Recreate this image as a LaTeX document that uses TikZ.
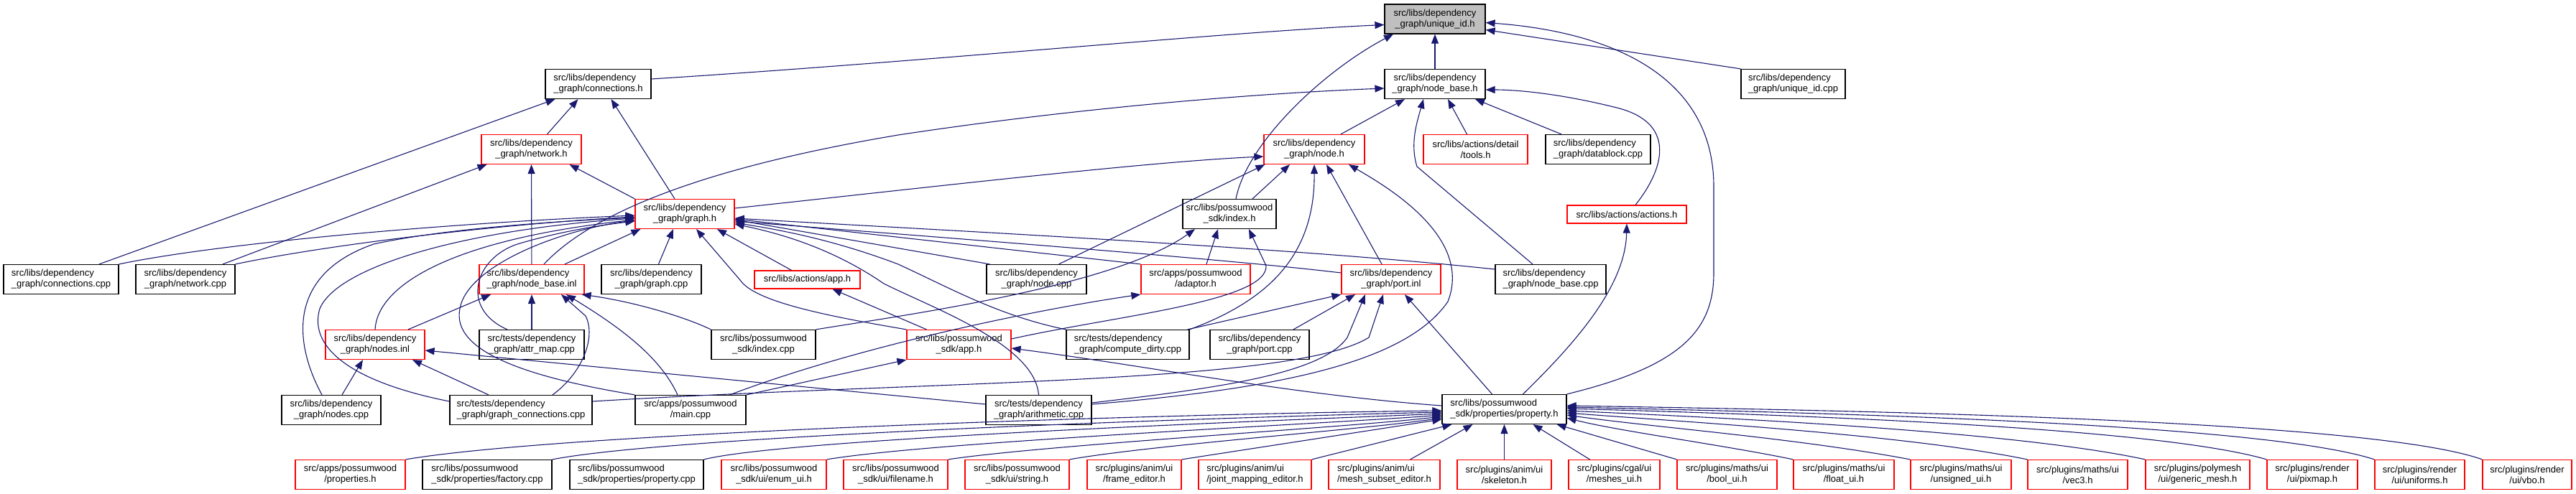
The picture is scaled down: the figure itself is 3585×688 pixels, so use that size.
\documentclass[tikz,border=0pt]{standalone}
\usepackage{fontspec}
\setmainfont{Liberation Sans}
\usetikzlibrary{arrows.meta}

\definecolor{edgeblue}{HTML}{191970}
\definecolor{boxred}{HTML}{FF0000}
\definecolor{rootgray}{HTML}{BFBFBF}

\tikzset{
  file/.style={draw=black, fill=white, line width=1.2pt, align=center, inner sep=0pt,
    minimum height=41pt, font=\fontsize{13}{15}\selectfont},
  trunc/.style={file, draw=boxred},
  root/.style={file, fill=rootgray},
  dep/.style={draw=edgeblue, line width=1.1pt, -{Triangle[length=13pt,width=10pt]}},
}

\begin{document}
\begin{tikzpicture}[x=1pt,y=-1pt]
        \useasboundingbox (0,0) rectangle (3585,688);

        % Files, row by row
        \node[root, minimum width=140pt] (uidh) at (1997,26.5) {src/libs/dependency\\\_graph/unique\_id.h};

        \node[file, minimum width=147pt, align=left] (connh) at (832.5,117) {src/libs/dependency\\\_graph/connections.h};
        \node[file, minimum width=140pt] (nbaseh) at (1997,117) {src/libs/dependency\\\_graph/node\_base.h};
        \node[file, minimum width=145pt, align=left] (uidcpp) at (2495.5,117) {src/libs/dependency\\\_graph/unique\_id.cpp};

        \node[trunc, minimum width=139pt] (networkh) at (739.5,208) {src/libs/dependency\\\_graph/network.h};
        \node[trunc, minimum width=140pt] (nodeh) at (1829,208) {src/libs/dependency\\\_graph/node.h};
        \node[trunc, minimum width=145pt] (toolsh) at (2053.5,208) {src/libs/actions/detail\\/tools.h};
        \node[file, minimum width=146pt, align=left] (datablock) at (2224,208) {src/libs/dependency\\\_graph/datablock.cpp};

        \node[trunc, minimum width=138pt] (graphh) at (953,298) {src/libs/dependency\\\_graph/graph.h};
        \node[file, minimum width=130pt] (indexh) at (1711,298) {src/libs/possumwood\\\_sdk/index.h};
        \node[trunc, minimum width=166pt, minimum height=25pt] (actionsh) at (2264,298.5) {src/libs/actions/actions.h};

        \node[file, minimum width=160pt, align=left] (conncpp) at (85,389) {src/libs/dependency\\\_graph/connections.cpp};
        \node[file, minimum width=138pt] (networkcpp) at (258,389) {src/libs/dependency\\\_graph/network.cpp};
        \node[trunc, minimum width=146pt, align=left] (nbaseinl) at (740,389) {src/libs/dependency\\\_graph/node\_base.inl};
        \node[file, minimum width=139pt] (graphcpp) at (906.5,389) {src/libs/dependency\\\_graph/graph.cpp};
        \node[trunc, minimum width=147pt, minimum height=25pt] (apph) at (1123.5,389.5) {src/libs/actions/app.h};
        \node[file, minimum width=139pt] (nodecpp) at (1442.5,389) {src/libs/dependency\\\_graph/node.cpp};
        \node[trunc, minimum width=152pt] (adaptorh) at (1664,389) {src/apps/possumwood\\/adaptor.h};
        \node[trunc, minimum width=138pt] (portinl) at (1936,389) {src/libs/dependency\\\_graph/port.inl};
        \node[file, minimum width=154pt, align=left] (nbasecpp) at (2158,389) {src/libs/dependency\\\_graph/node\_base.cpp};

        \node[trunc, minimum width=138pt] (nodesinl) at (522,480) {src/libs/dependency\\\_graph/nodes.inl};
        \node[file, minimum width=146pt] (attrmap) at (740,480) {src/tests/dependency\\\_graph/attr\_map.cpp};
        \node[file, minimum width=145pt] (indexcpp) at (1062.5,480) {src/libs/possumwood\\\_sdk/index.cpp};
        \node[trunc, minimum width=145pt] (pwapph) at (1334.5,480) {src/libs/possumwood\\\_sdk/app.h};
        \node[file, minimum width=171pt, align=left] (dirtycpp) at (1569.5,480) {src/tests/dependency\\\_graph/compute\_dirty.cpp};
        \node[file, minimum width=138pt] (portcpp) at (1753,480) {src/libs/dependency\\\_graph/port.cpp};

        \node[file, minimum width=138pt] (nodescpp) at (461,571) {src/libs/dependency\\\_graph/nodes.cpp};
        \node[file, minimum width=198pt, align=left] (gconncpp) at (725,571) {src/tests/dependency\\\_graph/graph\_connections.cpp};
        \node[file, minimum width=154pt] (maincpp) at (961,571) {src/apps/possumwood\\/main.cpp};
        \node[file, minimum width=147pt] (arithcpp) at (1445.5,571) {src/tests/dependency\\\_graph/arithmetic.cpp};
        \node[file, minimum width=173pt, align=left] (propertyh) at (2093.5,570) {src/libs/possumwood\\\_sdk/properties/property.h};

        \node[trunc, minimum width=153pt] (propsh) at (487.5,661) {src/apps/possumwood\\/properties.h};
        \node[file, minimum width=180pt, align=left] (factorycpp) at (678,661) {src/libs/possumwood\\\_sdk/properties/factory.cpp};
        \node[file, minimum width=186pt, align=left] (propcpp) at (886,661) {src/libs/possumwood\\\_sdk/properties/property.cpp};
        \node[trunc, minimum width=146pt] (enumui) at (1077,661) {src/libs/possumwood\\\_sdk/ui/enum\_ui.h};
        \node[trunc, minimum width=145pt] (filenameh) at (1246.5,661) {src/libs/possumwood\\\_sdk/ui/filename.h};
        \node[trunc, minimum width=145pt] (stringh) at (1415.5,661) {src/libs/possumwood\\\_sdk/ui/string.h};
        \node[trunc, minimum width=131pt] (frameh) at (1578.5,661) {src/plugins/anim/ui\\/frame\_editor.h};
        \node[trunc, minimum width=157pt, align=left] (jointh) at (1746.5,661) {src/plugins/anim/ui\\/joint\_mapping\_editor.h};
        \node[trunc, minimum width=155pt, align=left] (meshsubh) at (1926.5,661) {src/plugins/anim/ui\\/mesh\_subset\_editor.h};
        \node[trunc, minimum width=131pt] (skeletonh) at (2093.5,661) {src/plugins/anim/ui\\/skeleton.h};
        \node[trunc, minimum width=127pt] (meshesh) at (2246.5,661) {src/plugins/cgal/ui\\/meshes\_ui.h};
        \node[trunc, minimum width=139pt] (boolh) at (2403.5,661) {src/plugins/maths/ui\\/bool\_ui.h};
        \node[trunc, minimum width=140pt] (floath) at (2566,661) {src/plugins/maths/ui\\/float\_ui.h};
        \node[trunc, minimum width=140pt] (unsignedh) at (2729,661) {src/plugins/maths/ui\\/unsigned\_ui.h};
        \node[trunc, minimum width=139pt] (vecth) at (2891.5,661) {src/plugins/maths/ui\\/vec3.h};
        \node[trunc, minimum width=145pt] (meshh) at (3058.5,661) {src/plugins/polymesh\\/ui/generic\_mesh.h};
        \node[trunc, minimum width=126pt] (pixmaph) at (3218,661) {src/plugins/render\\/ui/pixmap.h};
        \node[trunc, minimum width=125pt] (uniformsh) at (3367.5,661) {src/plugins/render\\/ui/uniforms.h};
        \node[trunc, minimum width=124pt] (vboh) at (3517,661) {src/plugins/render\\/ui/vbo.h};

        % unique_id.h
        \draw[dep] ([yshift=7pt]connh.east) .. controls (1300,85) and (1700,45) .. ([yshift=-8pt]uidh.west);
        \draw[dep] (nbaseh) -- (uidh);
        \draw[dep] (uidcpp.north west) -- ([yshift=-15pt]uidh.east);
        \draw[dep] ([xshift=9pt]indexh.north) .. controls (1735,200) and (1840,100) .. ([xshift=-58pt]uidh.south);
        \draw[dep] (propertyh.north east) .. controls (2340,510) and (2385,460) .. (2385,380) -- (2385,260)
                   .. controls (2385,110) and (2250,45) .. ([yshift=-5pt]uidh.east);

        % connections.h
        \draw[dep] ([xshift=22pt]networkh.north) -- ([xshift=-28pt]connh.south);
        \draw[dep] ([xshift=-14pt]graphh.north) -- ([xshift=18pt]connh.south);
        \draw[dep] ([xshift=53pt]conncpp.north) -- ([xshift=-60pt]connh.south);

        % node_base.h
        \draw[dep] ([xshift=37pt]nodeh.north) -- ([xshift=-42pt]nbaseh.south);
        \draw[dep] ([xshift=17pt]nbaseinl.north) .. controls (830,290) and (1000,230) .. (1250,188)
                   .. controls (1500,150) and (1750,130) .. ([yshift=-6pt]nbaseh.west);
        \draw[dep] ([xshift=-12pt]toolsh.north) -- ([xshift=18pt]nbaseh.south);
        \draw[dep] ([xshift=-51pt]datablock.north) -- ([xshift=56pt]nbaseh.south);
        \draw[dep] ([xshift=-25pt]nbasecpp.north) -- (1972,232) .. controls (1962,200) and (1972,170) .. ([xshift=-16pt]nbaseh.south);
        \draw[dep] ([xshift=12pt]actionsh.north) .. controls (2320,230) and (2330,170) .. (2250,150)
                   .. controls (2170,130) and (2110,125) .. ([yshift=-8pt]nbaseh.east);

        % network.h
        \draw[dep] (graphh.north west) -- ([xshift=53pt]networkh.south);
        \draw[dep] (nbaseinl) -- (networkh);
        \draw[dep] ([xshift=52pt]networkcpp.north) -- ([xshift=-62pt]networkh.south);

        % node.h
        \draw[dep] ([yshift=8pt]graphh.east) .. controls (1300,260) and (1600,225) .. ([yshift=-10pt]nodeh.west);
        \draw[dep] ([xshift=32pt]indexh.north) -- ([xshift=-34pt]nodeh.south);
        \draw[dep] ([xshift=31pt]nodecpp.north) -- ([xshift=2pt]nodeh.south west);
        \draw[dep] ([xshift=-13pt]portinl.north) -- ([xshift=17pt]nodeh.south);
        \draw[dep] (dirtycpp.north east) .. controls (1760,420) and (1830,360) .. (nodeh.south);
        \draw[dep] ([yshift=8pt]arithcpp.east) .. controls (1800,540) and (1960,500) .. (2015,420)
                   .. controls (2050,330) and (1930,260) .. ([xshift=48pt]nodeh.south);

        % graph.h, from the left
        \draw[dep] (conncpp.north east) .. controls (300,340) and (600,312) .. ([yshift=-2pt]graphh.west);
        \draw[dep] (networkcpp.north east) .. controls (460,340) and (700,312) .. ([yshift=-4pt]graphh.west);
        \draw[dep] ([xshift=-13pt]nodescpp.north) .. controls (405,470) and (405,380) .. (520,340)
                   .. controls (620,318) and (780,308) .. ([yshift=-5pt]graphh.west);
        \draw[dep] ([yshift=12pt]gconncpp.west) .. controls (480,530) and (430,480) .. (445,430)
                   .. controls (470,370) and (650,320) .. ([yshift=-6pt]graphh.west);
        \draw[dep] (nodesinl.north) .. controls (525,400) and (620,335) .. ([yshift=-8pt]graphh.west);
        \draw[dep] (maincpp.north west) .. controls (700,520) and (630,480) .. (640,430)
                   .. controls (650,370) and (780,320) .. ([yshift=-9pt]graphh.west);
        \draw[dep] ([xshift=-34pt]attrmap.north) .. controls (640,430) and (660,360) .. (720,340)
                   .. controls (780,322) and (840,313) .. ([yshift=-10pt]graphh.west);
        \draw[dep] ([xshift=46pt]nbaseinl.north) -- ([xshift=8pt]graphh.south west);
        \draw[dep] ([xshift=10pt]graphcpp.north) -- ([xshift=-16pt]graphh.south);
        \draw[dep] (pwapph.north west) .. controls (1150,440) and (1050,420) .. (1030,390) -- ([xshift=16pt]graphh.south);
        \draw[dep] ([xshift=-22pt]apph.north) -- ([xshift=45pt]graphh.south);

        % graph.h, from the right
        \draw[dep] ([yshift=14pt]nbasecpp.west) .. controls (1800,345) and (1300,320) .. ([yshift=-6pt]graphh.east);
        \draw[dep] ([yshift=9pt]portinl.west) .. controls (1700,360) and (1300,330) .. ([yshift=-10pt]graphh.east);
        \draw[dep] ([xshift=-65pt]nodecpp.north) -- ([yshift=-8pt]graphh.east);
        \draw[dep] (adaptorh.north west) -- ([yshift=-7pt]graphh.east);
        \draw[dep] (dirtycpp.north west) .. controls (1390,440) and (1320,400) .. (1250,368)
                   .. controls (1150,330) and (1070,318) .. ([yshift=-12pt]graphh.east);
        \draw[dep] (arithcpp.north) .. controls (1440,480) and (1300,430) .. (1230,395)
                   .. controls (1150,340) and (1070,322) .. ([yshift=-14pt]graphh.east);

        % index.h
        \draw[dep] (indexcpp.north east) .. controls (1250,440) and (1550,400) .. ([xshift=-48pt]indexh.south);
        \draw[dep] ([xshift=15pt]adaptorh.north) -- ([xshift=-16pt]indexh.south);
        \draw[dep] ([yshift=8pt]pwapph.east) .. controls (1550,440) and (1765,420) .. (1762,370) -- ([xshift=27pt]indexh.south);

        % app.h, adaptor.h, possumwood app.h, actions.h
        \draw[dep] ([xshift=-45pt]pwapph.north) -- ([xshift=35pt]apph.south);
        \draw[dep] ([xshift=-23pt]maincpp.north east) .. controls (1200,480) and (1450,430) .. (adaptorh.south west);
        \draw[dep] (maincpp.north east) -- (pwapph.south west);
        \draw[dep] ([yshift=5pt]propertyh.west) .. controls (1800,550) and (1600,510) .. ([yshift=-5pt]pwapph.east);
        \draw[dep] ([xshift=26pt]propertyh.north) .. controls (2190,480) and (2262,400) .. (actionsh.south);

        % node_base.inl
        \draw[dep] ([xshift=46pt]nodesinl.north) -- ([xshift=-57pt]nbaseinl.south);
        \draw[dep] (attrmap) -- (nbaseinl);
        \draw[dep] ([xshift=44pt]gconncpp.north) .. controls (810,520) and (830,470) .. (815,440) -- ([xshift=41pt]nbaseinl.south);
        \draw[dep] ([xshift=-18pt]maincpp.north) .. controls (920,500) and (870,460) .. ([xshift=48pt]nbaseinl.south);
        \draw[dep] (indexcpp.north west) .. controls (950,440) and (880,420) .. ([xshift=-4pt]nbaseinl.south east);

        % nodes.inl
        \draw[dep] ([xshift=15pt]nodescpp.north) -- ([xshift=-17pt]nodesinl.south);
        \draw[dep] ([xshift=-45pt]gconncpp.north) -- ([xshift=52pt]nodesinl.south);
        \draw[dep] ([yshift=8pt]arithcpp.west) -- ([yshift=-8pt]nodesinl.east);

        % port.inl
        \draw[dep] ([xshift=-3pt]dirtycpp.north east) -- (portinl.south west);
        \draw[dep] ([xshift=47pt]portcpp.north) -- ([xshift=-50pt]portinl.south);
        \draw[dep] ([yshift=10pt]arithcpp.east) .. controls (1700,540) and (1840,520) .. (1875,470) -- ([xshift=-36pt]portinl.south);
        \draw[dep] ([yshift=12pt]gconncpp.east) .. controls (1300,530) and (1800,535) .. (1905,470) -- ([xshift=-11pt]portinl.south);
        \draw[dep] ([xshift=-17pt]propertyh.north) -- ([xshift=19pt]portinl.south);

        % property.h
        \draw[dep] (propsh.north east) .. controls (800,600) and (1700,575) .. ([yshift=-2pt]propertyh.west);
        \draw[dep] (factorycpp.north east) .. controls (950,605) and (1750,580) .. ([yshift=-4pt]propertyh.west);
        \draw[dep] (propcpp.north east) .. controls (1100,610) and (1800,585) .. ([yshift=-6pt]propertyh.west);
        \draw[dep] (enumui.north east) .. controls (1300,615) and (1850,590) .. ([yshift=-8pt]propertyh.west);
        \draw[dep] (filenameh.north east) .. controls (1450,620) and (1880,595) .. ([yshift=-10pt]propertyh.west);
        \draw[dep] (stringh.north east) .. controls (1600,620) and (1900,598) .. ([yshift=-12pt]propertyh.west);
        \draw[dep] (frameh.north east) -- ([yshift=-14pt]propertyh.west);
        \draw[dep] (jointh.north east) -- ([xshift=14pt]propertyh.south west);
        \draw[dep] ([xshift=36pt]meshsubh.north) -- ([xshift=-44pt]propertyh.south);
        \draw[dep] (skeletonh) -- (propertyh);
        \draw[dep] ([xshift=-34pt]meshesh.north) -- ([xshift=40pt]propertyh.south);
        \draw[dep] (boolh.north west) -- ([xshift=-14pt]propertyh.south east);
        \draw[dep] (floath.north west) .. controls (2400,620) and (2250,600) .. ([yshift=-12pt]propertyh.east);
        \draw[dep] (unsignedh.north west) .. controls (2500,610) and (2300,595) .. ([yshift=-8pt]propertyh.east);
        \draw[dep] (vecth.north west) .. controls (2650,605) and (2350,588) .. ([yshift=-5pt]propertyh.east);
        \draw[dep] (meshh.north west) .. controls (2800,600) and (2400,582) .. ([yshift=-2pt]propertyh.east);
        \draw[dep] (pixmaph.north west) .. controls (3000,595) and (2500,578) .. ([yshift=1pt]propertyh.east);
        \draw[dep] (uniformsh.north west) .. controls (3150,590) and (2550,575) .. ([yshift=3pt]propertyh.east);
        \draw[dep] (vboh.north west) .. controls (3300,585) and (2600,572) .. ([yshift=5pt]propertyh.east);
\end{tikzpicture}
\end{document}
